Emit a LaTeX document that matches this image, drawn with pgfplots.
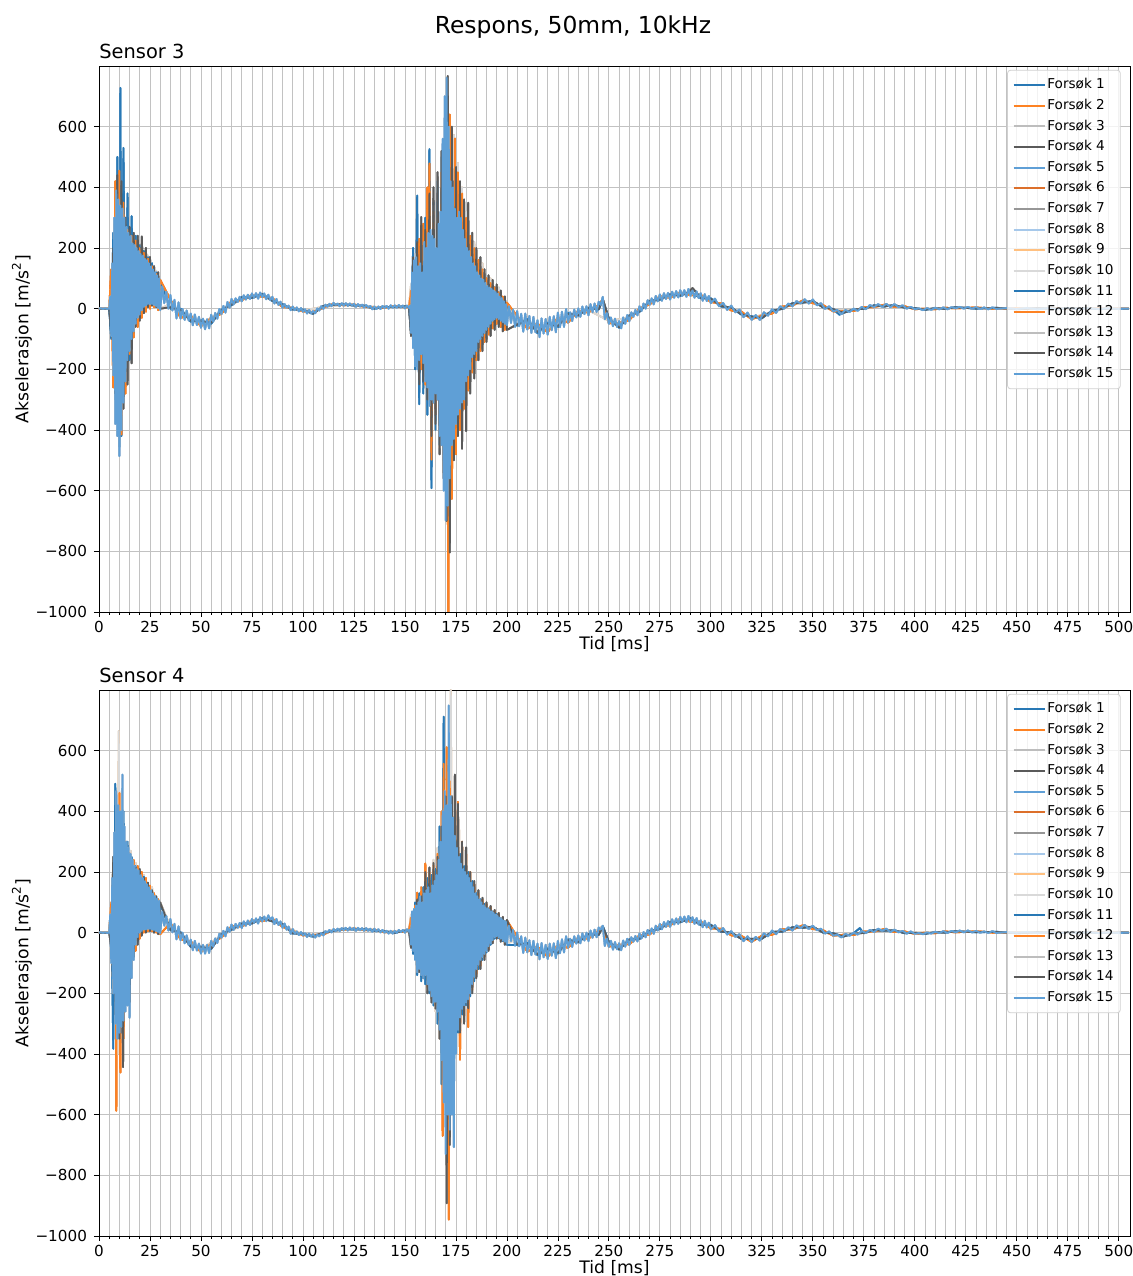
\documentclass[border=0pt]{standalone}
\usepackage{pgfplots}
\usepackage{pgfplotstable}
\pgfplotsset{compat=1.18}
\usepackage{fontspec}
\setmainfont{DejaVu Sans}

\definecolor{cA}{HTML}{2878B5}
\definecolor{cB}{HTML}{FD8223}
\definecolor{cC}{HTML}{BDBDBD}
\definecolor{cD}{HTML}{5A5A5A}
\definecolor{cE}{HTML}{5F9FD6}
\definecolor{cF}{HTML}{DC6F2A}
\definecolor{cG}{HTML}{969696}
\definecolor{cH}{HTML}{A6C8EA}
\definecolor{cI}{HTML}{FFC080}
\definecolor{cJ}{HTML}{D9D9D9}
\definecolor{gridgray}{HTML}{C2C2C2}
\definecolor{legendgray}{HTML}{D0D0D0}

% ---------------- Sensor 3 ----------------
\pgfplotstableread[row sep=\\]{t y\\
0 0\\ 1 1\\ 2 -1\\ 3 1\\ 4 -1\\ 5 0\\
5.5 40\\ 6 -90\\ 6.5 150\\ 7 -220\\ 7.5 300\\ 8 -380\\ 8.5 390\\ 9 -420\\ 9.5 360\\ 10 -486\\
10.5 340\\ 11 -400\\ 11.5 330\\ 12 -310\\ 12.5 300\\ 13 -240\\ 13.5 270\\ 14 -170\\ 14.5 250\\ 15 -140\\
15.5 240\\ 16 -100\\ 16.5 215\\ 17 -75\\ 17.5 210\\ 18 -50\\ 18.5 200\\ 19 -30\\ 19.5 190\\ 20 -20\\
20.5 180\\ 21 -5\\ 21.5 175\\ 22 5\\ 22.5 165\\ 23 10\\ 23.5 160\\ 24 15\\ 24.5 150\\ 25 15\\
25.5 140\\ 26 15\\ 26.5 130\\ 27 12\\ 27.5 120\\ 28 8\\ 28.5 110\\ 29 2\\ 29.5 100\\ 30 -5\\
31 73\\ 32 18\\ 33 56\\ 34 0\\ 35 45\\ 36 -6\\ 37 29\\ 38 -32\\ 39 21\\ 40 -33\\
41 -1\\ 42 -37\\ 43 -6\\ 44 -39\\ 45 -16\\ 46 -55\\ 47 -19\\ 48 -54\\ 49 -27\\ 50 -63\\
51 -33\\ 52 -68\\ 53 -35\\ 54 -65\\ 55 -20\\ 56 -43\\ 57 -14\\ 58 -33\\ 59 -1\\ 60 -18\\
61 9\\ 62 -13\\ 63 22\\ 64 3\\ 65 32\\ 66 14\\ 67 34\\ 68 22\\ 69 39\\ 70 24\\
71 44\\ 72 30\\ 73 46\\ 74 32\\ 75 50\\ 76 36\\ 77 51\\ 78 33\\ 79 53\\ 80 38\\
81 50\\ 82 31\\ 83 46\\ 84 28\\ 85 39\\ 86 17\\ 87 32\\ 88 12\\ 89 23\\ 90 3\\
91 15\\ 92 3\\ 93 10\\ 94 -5\\ 95 7\\ 96 -5\\ 97 4\\ 98 -9\\ 99 2\\ 100 -10\\
101 -2\\ 102 -16\\ 103 -4\\ 104 -16\\ 105 -8\\ 106 -15\\ 107 1\\ 108 -6\\ 109 8\\ 110 -1\\
111 13\\ 112 6\\ 113 16\\ 114 8\\ 115 19\\ 116 12\\ 117 17\\ 118 8\\ 119 18\\ 120 10\\
121 18\\ 122 9\\ 123 17\\ 124 10\\ 125 16\\ 126 6\\ 127 15\\ 128 7\\ 129 13\\ 130 4\\
131 12\\ 132 4\\ 133 9\\ 134 -2\\ 135 7\\ 136 -1\\ 137 7\\ 138 -1\\ 139 9\\ 140 2\\
141 9\\ 142 0\\ 143 11\\ 144 3\\ 145 11\\ 146 3\\ 147 12\\ 148 4\\ 149 10\\ 150 1\\
151 10\\ 152 2\\
152.5 10\\ 153 -80\\ 153.5 120\\ 154 -130\\ 154.5 160\\ 155 -190\\ 155.5 170\\ 156 -200\\ 156.5 140\\ 157 -170\\
157.5 150\\ 158 -150\\ 158.5 120\\ 159 -180\\ 159.5 220\\ 160 -240\\ 160.5 200\\ 161 -260\\ 161.5 250\\ 162 -320\\
162.5 260\\ 163 -300\\ 163.5 240\\ 164 -310\\ 164.5 230\\ 165 -280\\ 165.5 200\\ 166 -300\\ 166.5 280\\ 167 -420\\
167.5 320\\ 168 -450\\ 168.5 560\\ 169 -600\\ 169.5 700\\ 170 -698\\ 170.5 761\\ 171 -650\\ 171.5 600\\ 172 -560\\
172.5 420\\ 173 -450\\ 173.5 400\\ 174 -430\\ 174.5 330\\ 175 -380\\ 175.5 300\\ 176 -350\\ 176.5 320\\ 177 -330\\
177.5 300\\ 178 -310\\ 178.5 260\\ 179 -300\\ 179.5 230\\ 180 -240\\ 180.5 200\\ 181 -220\\ 181.5 190\\ 182 -200\\
182.5 170\\ 183 -160\\ 183.5 150\\ 184 -150\\ 184.5 140\\ 185 -140\\ 185.5 120\\ 186 -110\\ 186.5 110\\ 187 -100\\
187.5 100\\ 188 -90\\ 188.5 95\\ 189 -80\\ 189.5 85\\ 190 -70\\ 190.5 75\\ 191 -60\\ 191.5 70\\ 192 -50\\
192.5 65\\ 193 -40\\ 193.5 60\\ 194 -35\\ 194.5 55\\ 195 -30\\ 195.5 50\\ 196 -35\\ 196.5 40\\ 197 -40\\
197.5 35\\ 198 -45\\ 198.5 25\\ 199 -50\\ 199.5 15\\ 200 -55\\
201 8\\ 202 -47\\ 203 -3\\ 204 -60\\ 205 -8\\ 206 -58\\ 207 -17\\ 208 -76\\ 209 -16\\ 210 -69\\
211 -24\\ 212 -80\\ 213 -27\\ 214 -78\\ 215 -38\\ 216 -94\\ 217 -32\\ 218 -82\\ 219 -34\\ 220 -86\\
221 -27\\ 222 -71\\ 223 -25\\ 224 -78\\ 225 -13\\ 226 -61\\ 227 -10\\ 228 -60\\ 229 -1\\ 230 -46\\
231 -12\\ 232 -41\\ 233 -3\\ 234 -29\\ 235 1\\ 236 -27\\ 237 7\\ 238 -18\\ 239 8\\ 240 -22\\
241 15\\ 242 -12\\ 243 17\\ 244 -11\\ 245 23\\ 246 12\\ 247 39\\ 248 -35\\ 249 -14\\ 250 -50\\
251 -29\\ 252 -58\\ 253 -33\\ 254 -60\\ 255 -41\\ 256 -65\\ 257 -29\\ 258 -50\\ 259 -21\\ 260 -42\\
261 -12\\ 262 -27\\ 263 -4\\ 264 -22\\ 265 8\\ 266 -8\\ 267 17\\ 268 0\\ 269 28\\ 270 13\\
271 34\\ 272 14\\ 273 42\\ 274 24\\ 275 47\\ 276 26\\ 277 51\\ 278 32\\ 279 52\\ 280 30\\
281 56\\ 282 36\\ 283 58\\ 284 37\\ 285 61\\ 286 42\\ 287 61\\ 288 39\\ 289 65\\ 290 42\\
291 60\\ 292 36\\ 293 57\\ 294 35\\ 295 51\\ 296 26\\ 297 48\\ 298 25\\ 299 42\\ 300 18\\
302 33\\ 304 8\\ 306 19\\ 308 -4\\ 310 10\\ 312 -12\\ 314 -3\\ 316 -28\\ 318 -13\\ 320 -37\\
322 -21\\ 324 -37\\ 326 -12\\ 328 -23\\ 330 -2\\ 332 -14\\ 334 8\\ 336 0\\ 338 17\\ 340 8\\
342 25\\ 344 17\\ 346 31\\ 348 17\\ 350 30\\ 352 11\\ 354 18\\ 356 -1\\ 358 8\\ 360 -9\\
362 -4\\ 364 -18\\ 366 -4\\ 368 -11\\ 370 0\\ 372 -7\\ 374 6\\ 376 -2\\ 378 12\\ 380 5\\
382 15\\ 384 6\\ 386 16\\ 388 5\\ 390 15\\ 392 5\\ 394 11\\ 396 0\\ 398 6\\ 400 -2\\
402 1\\ 404 -5\\ 406 2\\ 408 -4\\ 410 3\\ 412 -2\\ 414 4\\ 416 -2\\ 418 5\\ 420 1\\
422 6\\ 424 0\\ 426 6\\ 428 0\\ 430 5\\ 432 -1\\ 434 4\\ 436 -2\\ 438 4\\ 440 -1\\
445 2\\ 450 -1\\ 455 2\\ 460 -2\\ 465 1\\ 470 -1\\ 475 2\\ 480 -1\\ 485 1\\ 490 -1\\
495 1\\ 500 -1\\ 505 0\\
}\sThreeMain

\pgfplotstableread[row sep=\\]{t y\\
0 0\\ 5 0\\ 6 -100\\ 7 250\\ 8 -300\\ 9 500\\ 10 -456\\ 10.5 728\\ 11 -420\\ 12 530\\
13 -250\\ 14 380\\ 15 -170\\ 16 305\\ 17 -80\\ 18 240\\ 19 -40\\ 20 210\\ 21 -10\\ 22 190\\
23 0\\ 24 170\\ 25 5\\ 26 150\\ 27 10\\ 28 120\\ 29 0\\ 30 90\\
35 0\\ 40 0\\ 45 -43\\ 50 -38\\ 55 -50\\ 60 -3\\ 65 11\\ 70 38\\ 75 35\\ 80 49\\
85 25\\ 90 15\\ 95 -3\\ 100 -3\\ 105 -17\\ 110 9\\ 115 12\\ 120 15\\ 125 10\\ 130 10\\
135 0\\ 140 6\\ 145 5\\ 150 8\\ 152 5\\
153 -80\\ 154 200\\ 155 -200\\ 156 373\\ 157 -315\\ 158 250\\ 159 -280\\ 160 300\\ 161 -350\\ 162 526\\
163 -592\\ 164 350\\ 165 -400\\ 166 420\\ 167 -450\\ 168 500\\ 169 -520\\ 170 643\\ 171 -592\\ 172 540\\
173 -480\\ 174 420\\ 175 -420\\ 176 380\\ 177 -380\\ 178 320\\ 179 -320\\ 180 260\\ 181 -260\\ 182 220\\
183 -200\\ 184 180\\ 185 -160\\ 186 150\\ 187 -130\\ 188 120\\ 189 -100\\ 190 95\\ 191 -80\\ 192 80\\
193 -60\\ 194 70\\ 195 -45\\ 196 55\\ 197 -55\\ 198 35\\ 199 -65\\ 200 10\\
205 -56\\ 210 -34\\ 215 -81\\ 220 -46\\ 225 -61\\ 230 -14\\ 235 -23\\ 240 3\\ 245 -3\\ 247 28\\
250 -32\\ 255 -63\\ 260 -22\\ 265 -11\\ 270 26\\ 275 29\\ 280 48\\ 285 42\\ 290 56\\ 295 34\\
300 34\\ 305 7\\ 310 4\\ 315 -20\\ 320 -25\\ 325 -32\\ 330 -6\\ 335 -1\\ 340 18\\ 345 19\\
350 26\\ 355 4\\ 360 -1\\ 363 -20\\ 365 -14\\ 370 -2\\ 375 -1\\ 380 11\\ 385 7\\ 390 12\\
395 3\\ 400 2\\ 405 -4\\ 410 2\\ 415 -1\\ 420 5\\ 430 0\\ 440 3\\ 450 -2\\ 460 1\\
470 -1\\ 480 1\\ 490 -1\\ 500 0\\ 505 0\\
}\sThreeBlue

\pgfplotstableread[row sep=\\]{t y\\
0 0\\ 5 0\\ 6 130\\ 7 -260\\ 8 420\\ 9 -380\\ 10 455\\ 11 -415\\ 12 350\\ 13 -280\\
14 260\\ 15 -150\\ 16 240\\ 17 -95\\ 18 225\\ 19 -60\\ 20 200\\ 21 -30\\ 22 185\\ 23 -10\\
24 165\\ 25 0\\ 26 140\\ 27 5\\ 28 115\\ 29 -5\\ 30 95\\
35 30\\ 40 -30\\ 45 -23\\ 50 -58\\ 55 -30\\ 60 -17\\ 65 25\\ 70 28\\ 75 45\\ 80 39\\
85 35\\ 90 5\\ 95 3\\ 100 -9\\ 105 -11\\ 110 3\\ 115 16\\ 120 11\\ 125 14\\ 130 6\\
135 4\\ 140 2\\ 145 9\\ 150 4\\ 152 5\\
153 60\\ 154 -100\\ 155 150\\ 156 -170\\ 157 230\\ 158 -200\\ 159 280\\ 160 -250\\ 161 400\\ 161.5 -300\\
162 479\\ 163 -498\\ 164 320\\ 165 -350\\ 166 300\\ 167 -420\\ 168 450\\ 169 -560\\ 170 600\\ 171.3 -1000\\
172 640\\ 173 -627\\ 174.5 561\\ 175 -480\\ 176 450\\ 177 -400\\ 178 380\\ 179 -330\\ 180 300\\ 181 -270\\
182 240\\ 183 -210\\ 184 200\\ 185 -170\\ 186 160\\ 187 -140\\ 188 130\\ 189 -110\\ 190 100\\ 191 -85\\
192 85\\ 193 -65\\ 194 70\\ 195 -50\\ 196 55\\ 197 -60\\ 198 40\\ 199 -70\\ 200 20\\
205 -24\\ 210 -66\\ 215 -49\\ 220 -78\\ 225 -29\\ 230 -46\\ 235 -7\\ 240 -13\\ 245 13\\ 247 30\\
250 -48\\ 255 -47\\ 260 -38\\ 265 1\\ 270 14\\ 275 41\\ 280 36\\ 285 54\\ 290 44\\ 295 46\\
300 22\\ 305 17\\ 310 -6\\ 315 -10\\ 320 -35\\ 325 -22\\ 330 -16\\ 335 7\\ 340 10\\ 345 27\\
350 18\\ 355 12\\ 360 -9\\ 365 -8\\ 370 -8\\ 375 5\\ 380 5\\ 385 13\\ 390 6\\ 395 8\\
400 -2\\ 405 0\\ 410 -2\\ 415 3\\ 420 1\\ 430 4\\ 440 -1\\ 450 2\\ 460 -1\\ 470 1\\
480 -1\\ 490 1\\ 500 0\\ 505 0\\
}\sThreeOrange

\pgfplotstableread[row sep=\\]{t y\\
0 0\\ 5 0\\ 6 -80\\ 7 200\\ 8 -280\\ 9 440\\ 10 -400\\ 11 420\\ 12 -330\\ 13 300\\
14 -250\\ 15 270\\ 16 -180\\ 17 250\\ 18 -60\\ 19 240\\ 20 -40\\ 21 238\\ 22 -15\\ 23 200\\
24 5\\ 25 170\\ 26 10\\ 27 140\\ 28 5\\ 29 120\\ 30 0\\
35 5\\ 40 -5\\ 45 -40\\ 50 -42\\ 55 -46\\ 60 -5\\ 65 14\\ 70 36\\ 75 37\\ 80 47\\
85 27\\ 90 13\\ 95 -2\\ 100 -4\\ 105 -16\\ 110 8\\ 115 13\\ 120 14\\ 125 11\\ 130 9\\
135 1\\ 140 5\\ 145 6\\ 150 7\\ 152 5\\
153 -90\\ 154 170\\ 155 -160\\ 156 220\\ 157 -250\\ 158 302\\ 159 -239\\ 160 260\\ 161 -300\\ 162 380\\
163 -420\\ 164 400\\ 165 -380\\ 166 450\\ 167 -480\\ 168 520\\ 169 -560\\ 170 680\\ 170.5 -700\\ 171 767\\
172 -804\\ 173 600\\ 174 -500\\ 175 467\\ 176 -420\\ 177 420\\ 178 -462\\ 179 360\\ 180 -404\\ 181 349\\
182 -280\\ 183 250\\ 184 -230\\ 185 200\\ 186 -170\\ 187 170\\ 188 -140\\ 189 130\\ 190 -110\\ 191 110\\
192 -90\\ 193 95\\ 194 -70\\ 195 80\\ 196 -60\\ 197 60\\ 198 -75\\ 199 40\\ 200 -70\\
205 -52\\ 210 -38\\ 215 -77\\ 220 -50\\ 225 -57\\ 230 -18\\ 235 -21\\ 240 1\\ 245 -1\\ 247 32\\
250 -34\\ 255 -61\\ 260 -24\\ 265 -9\\ 270 24\\ 275 31\\ 280 46\\ 285 44\\ 289 54\\ 291 68\\
295 36\\ 300 32\\ 305 9\\ 310 3\\ 315 -18\\ 320 -27\\ 325 -30\\ 330 -8\\ 335 0\\ 340 17\\
345 20\\ 350 25\\ 355 5\\ 360 -2\\ 365 -13\\ 370 -3\\ 375 0\\ 380 10\\ 385 8\\ 390 11\\
395 4\\ 400 1\\ 405 -3\\ 410 1\\ 415 0\\ 420 4\\ 430 1\\ 440 2\\ 450 -1\\ 460 1\\
470 0\\ 480 1\\ 490 -1\\ 500 0\\ 505 0\\
}\sThreeGray

\pgfplotstableread[row sep=\\]{t y\\
0 0\\ 5 0\\ 6 90\\ 7 -180\\ 8 300\\ 9 -330\\ 10 440\\ 11 -350\\ 12 300\\ 13 -200\\
14 250\\ 15 -120\\ 16 230\\ 18 -40\\ 20 210\\ 22 0\\ 24 175\\ 26 10\\ 28 125\\ 30 0\\
35 15\\ 40 -15\\ 50 -50\\ 60 -10\\ 70 33\\ 80 44\\ 90 10\\ 100 -6\\ 110 6\\ 120 13\\
130 8\\ 140 4\\ 150 6\\ 152 5\\
153 80\\ 154 -120\\ 155 180\\ 156 -200\\ 158 250\\ 159 -260\\ 160 240\\ 161 -280\\ 162 300\\ 163 -350\\
164 340\\ 165 -400\\ 166 420\\ 167 -460\\ 168 500\\ 169 -550\\ 170 560\\ 171 -620\\ 172 600\\ 173 -500\\
174 573\\ 175 -420\\ 176 480\\ 177 -380\\ 178 400\\ 179 -300\\ 180 320\\ 182 -220\\ 184 220\\ 186 -150\\
188 150\\ 190 -90\\ 192 100\\ 194 -50\\ 196 70\\ 198 -50\\ 200 10\\
205 -40\\ 210 -50\\ 215 -65\\ 220 -62\\ 230 -30\\ 240 -5\\ 250 -40\\ 260 -30\\ 270 20\\ 280 42\\
290 51\\ 300 28\\ 310 -1\\ 320 -30\\ 330 -12\\ 340 14\\ 350 22\\ 360 -5\\ 370 -5\\ 380 8\\
390 9\\ 400 0\\ 410 0\\ 420 3\\ 450 0\\ 505 0\\
}\sThreeLight

% ---------------- Sensor 4 ----------------
\pgfplotstableread[row sep=\\]{t y\\
0 0\\ 1 1\\ 2 -1\\ 3 1\\ 4 -1\\ 5 0\\
5.5 60\\ 6 -100\\ 6.5 180\\ 7 -200\\ 7.5 330\\ 8 -300\\ 8.5 467\\ 9 -350\\ 9.5 420\\ 10 -330\\
10.5 400\\ 11 -310\\ 11.5 521\\ 12 -290\\ 12.5 350\\ 13 -260\\ 13.5 300\\ 14 -240\\ 14.5 280\\ 15 -281\\
15.5 260\\ 16 -150\\ 16.5 240\\ 17 -90\\ 17.5 220\\ 18 -40\\ 18.5 210\\ 19 -15\\ 19.5 205\\ 20 0\\
20.5 190\\ 21 5\\ 21.5 180\\ 22 10\\ 22.5 170\\ 23 10\\ 23.5 160\\ 24 12\\ 24.5 150\\ 25 12\\
25.5 140\\ 26 10\\ 26.5 130\\ 27 8\\ 27.5 120\\ 28 5\\ 28.5 112\\ 29 2\\ 29.5 105\\ 30 -2\\
31 69\\ 32 23\\ 33 55\\ 34 7\\ 35 45\\ 36 1\\ 37 29\\ 38 -22\\ 39 21\\ 40 -25\\
41 0\\ 42 -35\\ 43 -9\\ 44 -41\\ 45 -23\\ 46 -58\\ 47 -27\\ 48 -59\\ 49 -36\\ 50 -69\\
51 -40\\ 52 -69\\ 53 -40\\ 54 -67\\ 55 -27\\ 56 -46\\ 57 -19\\ 58 -34\\ 59 -4\\ 60 -17\\
61 6\\ 62 -12\\ 63 18\\ 64 2\\ 65 27\\ 66 9\\ 67 29\\ 68 16\\ 69 32\\ 70 15\\
71 37\\ 72 23\\ 73 40\\ 74 25\\ 75 45\\ 76 32\\ 77 47\\ 78 30\\ 79 51\\ 80 37\\
81 53\\ 82 38\\ 83 57\\ 84 43\\ 85 51\\ 86 28\\ 87 45\\ 88 25\\ 89 37\\ 90 16\\
91 30\\ 92 10\\ 93 20\\ 94 -4\\ 95 12\\ 96 -4\\ 97 4\\ 98 -8\\ 99 2\\ 100 -9\\
101 -2\\ 102 -14\\ 103 -3\\ 104 -13\\ 105 -5\\ 106 -16\\ 107 -6\\ 108 -12\\ 109 -1\\ 110 -9\\
111 5\\ 112 0\\ 113 9\\ 114 1\\ 115 12\\ 116 5\\ 117 13\\ 118 5\\ 119 15\\ 120 8\\
121 16\\ 122 7\\ 123 17\\ 124 9\\ 125 16\\ 126 6\\ 127 16\\ 128 8\\ 129 15\\ 130 6\\
131 15\\ 132 6\\ 133 13\\ 134 3\\ 135 13\\ 136 4\\ 137 11\\ 138 1\\ 139 9\\ 140 0\\
141 6\\ 142 -3\\ 143 6\\ 144 -3\\ 145 6\\ 146 -1\\ 147 9\\ 148 2\\ 149 9\\ 150 0\\
151 11\\ 152 3\\
152.5 10\\ 153 -40\\ 153.5 70\\ 154 -60\\ 154.5 78\\ 155 -90\\ 155.5 90\\ 156 -130\\ 156.5 100\\ 157 -120\\
157.5 120\\ 158 -140\\ 158.5 100\\ 159 -150\\ 159.5 130\\ 160 -140\\ 160.5 140\\ 161 -170\\ 161.5 150\\ 162 -190\\
162.5 130\\ 163 -210\\ 163.5 156\\ 164 -230\\ 164.5 170\\ 165 -228\\ 165.5 190\\ 166 -260\\ 166.5 240\\ 167 -320\\
167.5 300\\ 168 -420\\ 168.5 400\\ 169 -560\\ 169.5 467\\ 170 -730\\ 170.5 420\\ 171 -600\\ 171.5 749\\ 172 -650\\
172.5 450\\ 173 -600\\ 173.5 380\\ 174 -707\\ 174.5 320\\ 175 -400\\ 175.5 280\\ 176 -320\\ 176.5 250\\ 177 -280\\
177.5 228\\ 178 -251\\ 178.5 210\\ 179 -240\\ 179.5 200\\ 180 -230\\ 180.5 190\\ 181 -220\\ 181.5 180\\ 182 -200\\
182.5 165\\ 183 -170\\ 183.5 150\\ 184 -145\\ 184.5 130\\ 185 -120\\ 185.5 120\\ 186 -105\\ 186.5 110\\ 187 -90\\
187.5 100\\ 188 -80\\ 188.5 90\\ 189 -70\\ 189.5 84\\ 190 -60\\ 190.5 80\\ 191 -45\\ 191.5 75\\ 192 -35\\
192.5 70\\ 193 -25\\ 193.5 65\\ 194 -15\\ 194.5 60\\ 195 -12\\ 195.5 55\\ 196 -15\\ 196.5 50\\ 197 -20\\
197.5 45\\ 198 -25\\ 198.5 40\\ 199 -30\\ 199.5 36\\ 200 -36\\
201 23\\ 202 -28\\ 203 9\\ 204 -43\\ 205 1\\ 206 -45\\ 207 -12\\ 208 -67\\ 209 -16\\ 210 -65\\
211 -25\\ 212 -74\\ 213 -27\\ 214 -72\\ 215 -36\\ 216 -88\\ 217 -34\\ 218 -81\\ 219 -40\\ 220 -87\\
221 -36\\ 222 -76\\ 223 -35\\ 224 -84\\ 225 -27\\ 226 -68\\ 227 -22\\ 228 -65\\ 229 -12\\ 230 -50\\
231 -20\\ 232 -47\\ 233 -12\\ 234 -36\\ 235 -9\\ 236 -35\\ 237 -2\\ 238 -26\\ 239 0\\ 240 -28\\
241 7\\ 242 -17\\ 243 10\\ 244 -15\\ 245 17\\ 246 10\\ 247 23\\ 248 -44\\ 249 -19\\ 250 -47\\
251 -27\\ 252 -56\\ 253 -31\\ 254 -55\\ 255 -35\\ 256 -58\\ 257 -26\\ 258 -46\\ 259 -20\\ 260 -41\\
261 -15\\ 262 -30\\ 263 -11\\ 264 -29\\ 265 -3\\ 266 -19\\ 267 2\\ 268 -15\\ 269 9\\ 270 -6\\
271 14\\ 272 -4\\ 273 23\\ 274 7\\ 275 29\\ 276 11\\ 277 35\\ 278 19\\ 279 38\\ 280 19\\
281 44\\ 282 27\\ 283 47\\ 284 29\\ 285 52\\ 286 36\\ 287 53\\ 288 34\\ 289 55\\ 290 35\\
291 51\\ 292 29\\ 293 48\\ 294 27\\ 295 41\\ 296 18\\ 297 39\\ 298 17\\ 299 33\\ 300 11\\
302 25\\ 304 4\\ 306 15\\ 308 -6\\ 310 5\\ 312 -14\\ 314 -5\\ 316 -28\\ 318 -12\\ 320 -31\\
322 -14\\ 324 -26\\ 326 -2\\ 328 -12\\ 330 7\\ 332 -5\\ 334 12\\ 336 5\\ 338 18\\ 340 7\\
342 24\\ 344 15\\ 346 26\\ 348 12\\ 350 23\\ 352 8\\ 354 13\\ 356 -3\\ 358 4\\ 360 -10\\
362 -6\\ 364 -16\\ 366 -4\\ 368 -10\\ 370 0\\ 372 -6\\ 374 5\\ 376 -1\\ 378 9\\ 380 2\\
382 13\\ 384 6\\ 386 13\\ 388 2\\ 390 10\\ 392 1\\ 394 6\\ 396 -3\\ 398 4\\ 400 -4\\
402 -1\\ 404 -5\\ 406 1\\ 408 -3\\ 410 3\\ 412 -1\\ 414 5\\ 416 -1\\ 418 6\\ 420 1\\
422 7\\ 424 1\\ 426 7\\ 428 1\\ 430 6\\ 432 0\\ 434 4\\ 436 -1\\ 438 5\\ 440 -1\\
445 2\\ 450 0\\ 455 2\\ 460 -1\\ 465 1\\ 470 -1\\ 475 1\\ 480 -1\\ 485 1\\ 490 -1\\
495 1\\ 500 -1\\ 505 0\\
}\sFourMain

\pgfplotstableread[row sep=\\]{t y\\
0 0\\ 5 0\\ 6 80\\ 7 -383\\ 8 491\\ 9 -300\\ 10 380\\ 11 -330\\ 12 400\\ 13 -240\\
14 300\\ 15 -200\\ 16 250\\ 17 -70\\ 18 220\\ 19 -30\\ 20 200\\ 21 0\\ 22 185\\ 23 5\\
24 160\\ 25 10\\ 26 140\\ 27 5\\ 28 115\\ 29 0\\ 30 95\\
35 8\\ 40 2\\ 45 -47\\ 50 -46\\ 55 -54\\ 60 -4\\ 65 9\\ 70 30\\ 75 30\\ 80 48\\
85 37\\ 90 29\\ 95 -3\\ 100 -3\\ 105 -13\\ 110 0\\ 115 5\\ 120 13\\ 125 10\\ 130 12\\
135 6\\ 140 5\\ 145 -1\\ 150 7\\ 152 6\\
153 40\\ 154 -70\\ 155 100\\ 156 -140\\ 157 130\\ 158 -160\\ 159 150\\ 160 -170\\ 161 180\\ 162 -200\\
163 190\\ 164 -240\\ 165 210\\ 166 -300\\ 167 350\\ 168 -500\\ 169 712\\ 170 -600\\ 171 550\\ 172 -620\\
173 420\\ 174 -500\\ 175 300\\ 176 -330\\ 177 260\\ 178 -270\\ 179 220\\ 180 -240\\ 181 200\\ 182 -210\\
183 170\\ 184 -160\\ 185 130\\ 186 -120\\ 187 110\\ 188 -90\\ 189 95\\ 190 -65\\ 191 80\\ 192 -40\\
193 70\\ 194 -20\\ 195 62\\ 196 -18\\ 197 48\\ 198 -28\\ 199 38\\ 200 -40\\
205 -41\\ 210 -34\\ 215 -74\\ 220 -52\\ 225 -69\\ 230 -22\\ 235 -32\\ 240 -4\\ 245 -8\\ 247 22\\
250 -30\\ 255 -56\\ 260 -22\\ 265 -21\\ 270 6\\ 275 12\\ 280 36\\ 285 34\\ 290 48\\ 295 25\\
300 26\\ 305 3\\ 310 1\\ 315 -21\\ 320 -20\\ 325 -20\\ 330 3\\ 335 3\\ 340 18\\ 345 16\\
350 20\\ 355 0\\ 360 -2\\ 365 -13\\ 370 -2\\ 373 15\\ 375 -2\\ 380 9\\ 385 6\\ 390 8\\
395 -2\\ 400 0\\ 405 -4\\ 410 2\\ 415 0\\ 420 5\\ 430 1\\ 440 3\\ 450 -2\\ 460 1\\
470 -1\\ 480 1\\ 490 0\\ 500 1\\ 505 0\\
}\sFourBlue

\pgfplotstableread[row sep=\\]{t y\\
0 0\\ 5 0\\ 6 100\\ 7 -200\\ 8 300\\ 8.5 -587\\ 9 350\\ 9.5 -300\\ 10 461\\ 10.5 -461\\
11 380\\ 12 -350\\ 13 300\\ 14 -200\\ 15 263\\ 16 -120\\ 17 240\\ 18 -60\\ 19 220\\ 20 -20\\
21 200\\ 22 0\\ 23 180\\ 24 5\\ 25 155\\ 26 5\\ 27 130\\ 28 0\\ 29 110\\ 30 -5\\
35 32\\ 40 -22\\ 45 -29\\ 50 -64\\ 55 -36\\ 60 -16\\ 65 21\\ 70 20\\ 75 40\\ 80 38\\
85 47\\ 90 19\\ 95 7\\ 100 -9\\ 105 -7\\ 110 -6\\ 115 9\\ 120 9\\ 125 14\\ 130 8\\
135 10\\ 140 1\\ 145 3\\ 150 3\\ 152 8\\
153 50\\ 154 -50\\ 155 90\\ 155.5 -80\\ 156 132\\ 157 -120\\ 158 150\\ 159 -140\\ 160 228\\ 161 -180\\
162 200\\ 163 -200\\ 164 222\\ 165 -240\\ 166 260\\ 167 -300\\ 168 400\\ 168.5 -670\\ 169 557\\ 170 -500\\
170.5 611\\ 171.5 -946\\ 172 500\\ 173 -550\\ 174 380\\ 175 -380\\ 176 431\\ 177 -419\\ 178 300\\ 179 -280\\
180 260\\ 181 -311\\ 182 200\\ 183 -190\\ 184 160\\ 185 -140\\ 186 130\\ 187 -110\\ 188 110\\ 189 -80\\
190 95\\ 191 -55\\ 192 85\\ 193 -30\\ 194 72\\ 195 -15\\ 196 64\\ 197 -25\\ 198 50\\ 199 -35\\ 200 40\\
205 -13\\ 210 -62\\ 215 -46\\ 220 -80\\ 225 -41\\ 230 -50\\ 235 -16\\ 240 -20\\ 245 8\\ 247 18\\
250 -46\\ 255 -40\\ 260 -38\\ 265 -9\\ 270 -6\\ 275 24\\ 280 24\\ 285 46\\ 290 36\\ 295 37\\
300 14\\ 305 13\\ 310 -9\\ 315 -11\\ 320 -30\\ 325 -10\\ 330 -7\\ 335 11\\ 340 10\\ 345 24\\
350 12\\ 355 8\\ 360 -10\\ 365 -7\\ 370 -8\\ 375 4\\ 380 3\\ 385 12\\ 390 2\\ 395 4\\
400 -4\\ 405 0\\ 410 -2\\ 415 4\\ 420 1\\ 430 5\\ 440 -1\\ 450 2\\ 460 -1\\ 470 1\\
480 -1\\ 490 1\\ 500 0\\ 505 0\\
}\sFourOrange

\pgfplotstableread[row sep=\\]{t y\\
0 0\\ 5 0\\ 6 -50\\ 7 250\\ 8 -270\\ 9 380\\ 10 -350\\ 11 330\\ 11.8 -443\\ 12.5 300\\
13 -200\\ 14 270\\ 15 -230\\ 16 230\\ 17 -80\\ 18 215\\ 19 -40\\ 20 210\\ 21 -10\\ 22 180\\
23 0\\ 24 165\\ 25 5\\ 26 140\\ 27 0\\ 28 120\\ 29 -5\\ 30 100\\
35 10\\ 40 0\\ 45 -45\\ 50 -48\\ 55 -52\\ 60 -6\\ 65 11\\ 70 29\\ 75 31\\ 80 47\\
85 38\\ 90 28\\ 95 -2\\ 100 -4\\ 105 -12\\ 110 -1\\ 115 6\\ 120 12\\ 125 11\\ 130 11\\
135 7\\ 140 4\\ 145 0\\ 150 6\\ 152 6\\
153 -50\\ 154 60\\ 155 -80\\ 156 110\\ 157 -130\\ 158 120\\ 159 -150\\ 160 200\\ 161 -200\\ 162 215\\
163 -230\\ 164 230\\ 165 -251\\ 166 250\\ 167 -350\\ 168 350\\ 169 -500\\ 170 450\\ 170.5 -892\\ 171 400\\
172 -700\\ 173 450\\ 174 -450\\ 174.5 521\\ 175 -350\\ 176 425\\ 177 -330\\ 178 300\\ 179 -300\\ 180 281\\
181 -250\\ 182 200\\ 183 -200\\ 184 170\\ 185 -150\\ 186 140\\ 187 -120\\ 188 115\\ 189 -90\\ 190 100\\
191 -60\\ 192 88\\ 193 -35\\ 194 75\\ 195 -20\\ 196 65\\ 197 -30\\ 198 52\\ 199 -40\\ 200 42\\
205 -38\\ 210 -37\\ 215 -71\\ 220 -55\\ 225 -66\\ 230 -25\\ 235 -30\\ 240 -6\\ 245 -6\\ 247 20\\
250 -32\\ 255 -54\\ 260 -24\\ 265 -19\\ 270 4\\ 275 14\\ 280 34\\ 285 36\\ 290 46\\ 295 27\\
300 24\\ 305 4\\ 310 0\\ 315 -20\\ 320 -21\\ 325 -19\\ 330 2\\ 335 4\\ 340 17\\ 345 17\\
350 19\\ 355 1\\ 360 -3\\ 365 -12\\ 370 -3\\ 375 -1\\ 380 8\\ 385 7\\ 390 7\\ 395 -1\\
400 -1\\ 405 -3\\ 410 1\\ 415 1\\ 420 4\\ 430 2\\ 440 2\\ 450 -1\\ 460 1\\ 470 0\\
480 1\\ 490 -1\\ 500 0\\ 505 0\\
}\sFourGray

\pgfplotstableread[row sep=\\]{t y\\
0 0\\ 5 0\\ 6 100\\ 7 -200\\ 8 350\\ 9 -400\\ 9.7 665\\ 10.5 -350\\ 11.5 400\\ 12.5 -250\\
13.5 300\\ 14.5 -150\\ 15.5 270\\ 16.5 -60\\ 18 230\\ 20 0\\ 22 190\\ 24 10\\ 26 150\\ 28 5\\
30 100\\ 35 20\\ 40 -10\\ 50 -55\\ 60 -10\\ 70 25\\ 80 43\\ 84 48\\ 90 24\\ 100 -6\\
107 -12\\ 112 3\\ 120 11\\ 130 10\\ 140 3\\ 150 6\\ 152 6\\
153 60\\ 154 -60\\ 155 100\\ 156 -120\\ 158 150\\ 159 -150\\ 160 180\\ 161 -190\\ 162 200\\ 163 -220\\
164 240\\ 165 -260\\ 166 280\\ 167 -350\\ 168 400\\ 169 -550\\ 170 500\\ 171 -650\\ 172.5 800\\ 173.5 -600\\
174.5 450\\ 175.5 -400\\ 176.5 380\\ 177.5 -320\\ 179 270\\ 180 -250\\ 182 190\\ 184 -150\\ 186 130\\ 188 -90\\
190 90\\ 192 -30\\ 194 70\\ 196 -15\\ 198 45\\ 200 -30\\
205 -27\\ 210 -48\\ 215 -60\\ 220 -66\\ 230 -36\\ 240 -12\\ 246 18\\ 250 -38\\ 255 -48\\ 260 -30\\
270 0\\ 280 30\\ 288 45\\ 300 20\\ 310 -4\\ 320 -25\\ 330 -2\\ 340 14\\ 347 21\\ 357 -1\\
363 -12\\ 373 -1\\ 384 9\\ 396 1\\ 409 0\\ 425 4\\ 450 0\\ 505 0\\
}\sFourLight

\pgfplotsset{
  panel/.style={
    scale only axis, width=515.5pt, height=273pt,
    xmin=0, xmax=505.5, ymin=-1000, ymax=800,
    xtick={0,25,...,500}, minor x tick num=4,
    ytick={-1000,-800,...,600},
    yticklabels={−1000,−800,−600,−400,−200,0,200,400,600},
    xmajorgrids, xminorgrids, ymajorgrids,
    major grid style={line width=0.4pt, draw=gridgray},
    minor grid style={line width=0.4pt, draw=gridgray},
    tick align=outside, xtick pos=bottom, ytick pos=left,
    major tick length=2.5pt, minor tick length=1.4pt,
    every tick/.style={black, line width=0.4pt},
    axis line style={line width=0.4pt},
    tick label style={font=\fontsize{7.6pt}{9pt}\selectfont},
    xticklabel style={yshift=1.5pt},
    /pgf/number format/assume math mode=true,
    xlabel={Tid [ms]},
    ylabel={Akselerasjon [m/s\textsuperscript{2}]},
    label style={font=\fontsize{8.6pt}{10pt}\selectfont},
    xlabel style={at={(axis description cs:0.5,-0.0586)}, anchor=center},
    ylabel style={at={(axis description cs:-0.0747,0.5)}, anchor=center},
    every axis title shift=0pt,
    title style={at={(axis description cs:0,1)}, anchor=base west, yshift=3.5pt,
      inner sep=0pt, font=\fontsize{9.7pt}{11pt}\selectfont},
    legend style={at={(0.991,0.993)}, anchor=north east, draw=legendgray,
      fill=white, fill opacity=0.8, text opacity=1, draw opacity=1,
      rounded corners=1.5pt, font=\fontsize{6.8pt}{8pt}\selectfont,
      inner xsep=2.5pt, inner ysep=3.2pt, row sep=1.85pt,
      nodes={inner sep=0.9pt}},
    legend cell align=left,
    legend image code/.code={\draw[line width=1pt] (0pt,0pt) -- (15.5pt,0pt);},
    every axis plot/.append style={line width=0.9pt, line join=round},
  },
}

% the same drawing order and trial-to-data assignment in both panels
\newcommand{\trials}[5]{%
  \addplot[cA] table[x=t,y=y] {#2}; \addlegendentry{Forsøk 1}
  \addplot[cB] table[x=t,y=y] {#3}; \addlegendentry{Forsøk 2}
  \addplot[cC] table[x=t,y=y] {#5}; \addlegendentry{Forsøk 3}
  \addplot[cD] table[x=t,y=y] {#4}; \addlegendentry{Forsøk 4}
  \addplot[cE] table[x=t,y=y] {#1}; \addlegendentry{Forsøk 5}
  \addplot[cF] table[x=t,y=y] {#3}; \addlegendentry{Forsøk 6}
  \addplot[cG] table[x=t,y=y] {#4}; \addlegendentry{Forsøk 7}
  \addplot[cH] table[x=t,y=y] {#1}; \addlegendentry{Forsøk 8}
  \addplot[cI] table[x=t,y=y] {#5}; \addlegendentry{Forsøk 9}
  \addplot[cJ] table[x=t,y=y] {#5}; \addlegendentry{Forsøk 10}
  \addplot[cA] table[x=t,y=y] {#2}; \addlegendentry{Forsøk 11}
  \addplot[cB] table[x=t,y=y] {#3}; \addlegendentry{Forsøk 12}
  \addplot[cC] table[x=t,y=y] {#1}; \addlegendentry{Forsøk 13}
  \addplot[cD] table[x=t,y=y] {#4}; \addlegendentry{Forsøk 14}
  \addplot[cE] table[x=t,y=y] {#1}; \addlegendentry{Forsøk 15}
}

\begin{document}
\begin{tikzpicture}
\path[use as bounding box] (0pt,0pt) rectangle (566.5pt,638pt);
\node[anchor=base, font=\fontsize{11.7pt}{14pt}\selectfont] at (286.5pt,621pt) {Respons, 50mm, 10kHz};

\begin{axis}[panel, at={(49.5pt,332pt)}, anchor=south west, title={Sensor 3}]
\trials{\sThreeMain}{\sThreeBlue}{\sThreeOrange}{\sThreeGray}{\sThreeLight}
\end{axis}

\begin{axis}[panel, at={(49.5pt,20pt)}, anchor=south west, title={Sensor 4}]
\trials{\sFourMain}{\sFourBlue}{\sFourOrange}{\sFourGray}{\sFourLight}
\end{axis}
\end{tikzpicture}
\end{document}
